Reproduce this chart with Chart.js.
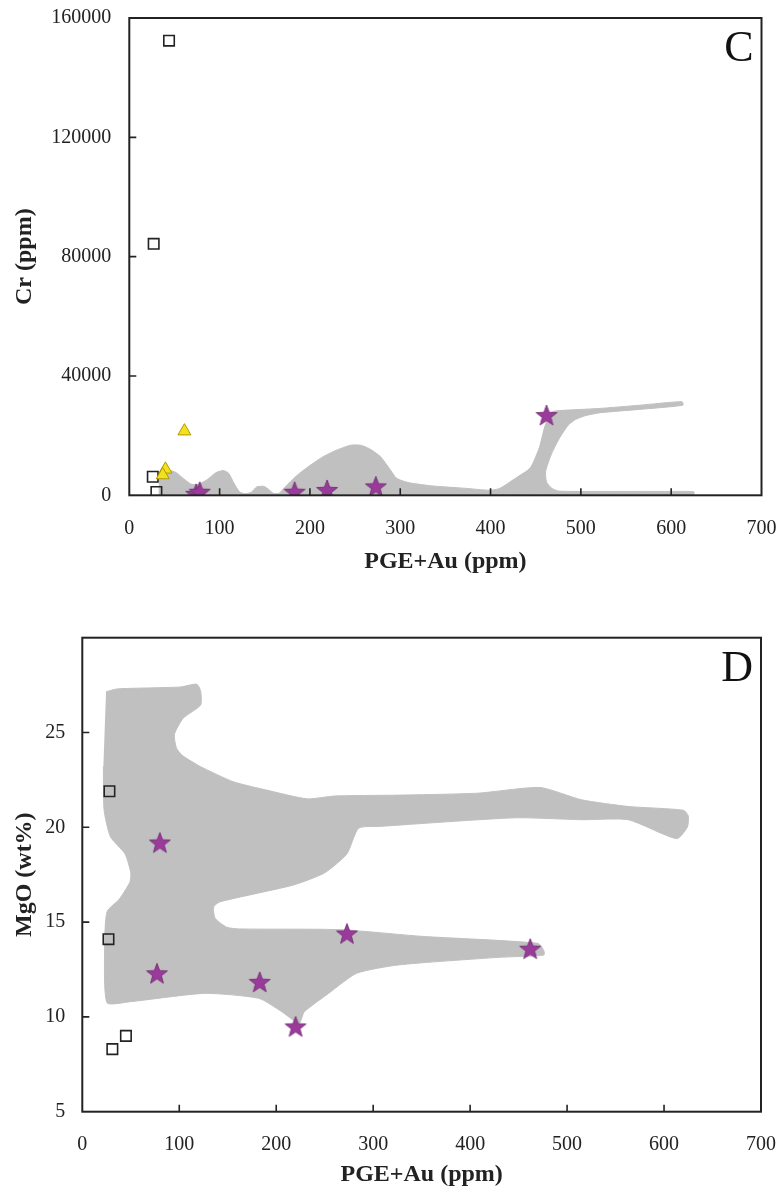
<!DOCTYPE html>
<html>
<head>
<meta charset="utf-8">
<script src="https://cdn.jsdelivr.net/npm/chart.js@4.4.1/dist/chart.umd.min.js"></script>
<style>
  body { margin: 0; background: #fff; }
  #wrap { position: relative; width: 778px; height: 1190px; }
  canvas { position: absolute; left: 0; }
  #chartC { top: 0; }
  #chartD { top: 590px; }
</style>
</head>
<body>
<div id="wrap">
  <canvas id="chartC" width="778" height="590"></canvas>
  <canvas id="chartD" width="778" height="600"></canvas>
</div>
<script>
// Panel C: Cr vs PGE+Au
const crSquareX = [44, 27, 26, 30];
const crSquareY = [152400, 84300, 6200, 1100];
const crTriangleX = [61, 40, 37];
const crTriangleY = [21500, 8700, 6800];
const crStarX = [74, 78, 183, 219, 273, 462];
const crStarY = [500, 1200, 1200, 1800, 3000, 26900];
// campo gris (contorno)
const fieldCX = [33, 34, 38, 44, 52, 60, 68, 76, 86, 96, 104, 110, 116, 122, 128, 135, 141, 149, 155, 160, 166, 172, 185, 200, 215, 230, 245, 256, 266, 278, 288, 296, 310, 337, 370, 399, 410, 428, 444, 454, 460, 466, 472, 520, 565, 612, 613, 565, 522, 505, 494, 486, 476, 467, 461, 462, 468, 476, 520, 600, 625, 625, 400];
const fieldCY = [200, 6500, 8000, 8400, 7600, 5600, 3800, 3600, 5200, 7600, 8300, 7400, 4000, 1200, 500, 1000, 2800, 3000, 1800, 600, 700, 2600, 6500, 10000, 13000, 15200, 16800, 16800, 15600, 13000, 9000, 5700, 4200, 3100, 2400, 1700, 2300, 5800, 9200, 16000, 23000, 27500, 28300, 29100, 30200, 31400, 30200, 28800, 27700, 26700, 25400, 23500, 19000, 13500, 8000, 4500, 2300, 1400, 1300, 1300, 1200, 300, 200];
const crYTicks = [40000, 80000, 120000];

// Panel D: MgO vs PGE+Au
const mgSquareX = [28, 27, 31, 45];
const mgSquareY = [21.9, 14.1, 8.3, 9.0];
const mgStarX = [80, 77, 183, 220, 273, 462];
const mgStarY = [19.2, 12.3, 11.85, 9.5, 14.4, 13.6];
const fieldDX = [24.5, 36, 101, 118, 122, 122, 104, 95, 97, 103, 122, 156, 191, 232, 260, 330, 408, 472, 515, 563, 620, 625, 624, 613, 563, 515, 446, 308, 285, 273, 250, 218, 142, 135.5, 137, 149, 162, 266, 350, 470, 476, 476, 429, 326, 283, 254, 229, 223.6, 205, 182, 126, 49, 25.5, 23, 25.5, 38, 49, 50, 44, 29, 22.5, 21.7];
const fieldDY = [27.15, 27.3, 27.4, 27.55, 27.2, 26.45, 25.75, 24.9, 24.2, 23.8, 23.2, 22.4, 21.95, 21.5, 21.65, 21.7, 21.8, 22.1, 21.45, 21.1, 20.9, 20.6, 20.0, 19.4, 20.4, 20.4, 20.5, 20.05, 19.95, 18.6, 17.6, 16.96, 16.07, 15.8, 15.2, 14.73, 14.64, 14.6, 14.25, 13.88, 13.5, 13.26, 13.14, 12.74, 12.3, 11.24, 10.27, 9.66, 10.3, 10.98, 11.24, 10.8, 10.75, 13.7, 15.55, 16.2, 17.1, 17.6, 18.6, 19.5, 20.9, 23.2];
const mgYTicks = [10, 15, 20, 25];

const xTickMarks = [100, 200, 300, 400, 500, 600];

Chart.defaults.font.family = '"Liberation Serif", "DejaVu Serif", serif';
Chart.defaults.color = '#222';

function puntos(xs, ys) {
  return xs.map((x, i) => ({ x: x, y: ys[i] }));
}

// estrella rellena de 5 puntas para usar como pointStyle
function estrella(r, fill, stroke) {
  const c = document.createElement('canvas');
  const s = Math.ceil(r * 2 + 2);
  c.width = s; c.height = s;
  const g = c.getContext('2d');
  g.beginPath();
  for (let i = 0; i < 10; i++) {
    const rad = i % 2 ? r * 0.42 : r;
    const ang = -Math.PI / 2 + i * Math.PI / 5;
    g.lineTo(s / 2 + rad * Math.cos(ang), s / 2 + 1 + rad * Math.sin(ang));
  }
  g.closePath();
  g.fillStyle = fill;
  g.fill();
  g.strokeStyle = stroke;
  g.lineWidth = 0.8;
  g.stroke();
  return c;
}
const starImg = estrella(11, '#9a3a9a', '#6f2a6f');

// marco, ticks interiores y letra del panel
const marco = {
  id: 'marco',
  afterDatasetsDraw(chart, args, opts) {
    const { ctx, chartArea: a, scales: { x, y } } = chart;
    ctx.save();
    ctx.strokeStyle = '#222';
    ctx.lineWidth = 1.6;
    ctx.beginPath();
    opts.xTicks.forEach(v => {
      const px = x.getPixelForValue(v);
      ctx.moveTo(px, a.bottom);
      ctx.lineTo(px, a.bottom - 7);
    });
    opts.yTicks.forEach(v => {
      const py = y.getPixelForValue(v);
      ctx.moveTo(a.left, py);
      ctx.lineTo(a.left + 7, py);
    });
    ctx.stroke();
    ctx.lineWidth = 2;
    ctx.strokeRect(a.left, a.top, a.right - a.left, a.bottom - a.top);
    ctx.font = '44px "Liberation Serif"';
    ctx.fillStyle = '#111';
    ctx.textAlign = 'right';
    ctx.textBaseline = 'alphabetic';
    ctx.fillText(opts.label, a.right - 8, a.top + 43);
    ctx.restore();
  }
};

function hacerGrafica(id, cfg) {
  const datasets = [];
  if (cfg.triangles) {
    datasets.push({
      data: cfg.triangles,
      pointStyle: 'triangle',
      pointRadius: 7.5,
      backgroundColor: '#f2e21e',
      borderColor: '#b09a00',
      borderWidth: 1,
      order: 0
    });
  }
  datasets.push({
    data: cfg.squares,
    pointStyle: 'rect',
    pointRadius: 7.4,
    backgroundColor: 'rgba(0,0,0,0)',
    borderColor: '#222',
    borderWidth: 1.6,
    order: 1
  });
  datasets.push({
    data: cfg.stars,
    pointStyle: starImg,
    pointRadius: 11,
    order: 2
  });
  datasets.push({
    data: cfg.field,
    showLine: true,
    fill: 'shape',
    backgroundColor: '#c0c0c0',
    borderColor: '#c0c0c0',
    borderWidth: 1,
    pointRadius: 0,
    pointHitRadius: 0,
    tension: 0.2,
    order: 3
  });

  return new Chart(document.getElementById(id), {
    type: 'scatter',
    data: { datasets },
    options: {
      responsive: false,
      animation: false,
      layout: { padding: { top: cfg.padTop, right: cfg.padRight, left: 0, bottom: 0 } },
      plugins: {
        legend: { display: false },
        tooltip: { enabled: false },
        marco: { xTicks: xTickMarks, yTicks: cfg.yTickMarks, label: cfg.label }
      },
      scales: {
        x: {
          type: 'linear',
          min: 0, max: 700,
          grid: { display: false, drawTicks: false },
          border: { display: false },
          ticks: { stepSize: 100, padding: 21, maxRotation: 0, autoSkip: false, font: { size: 20 }, callback: v => String(v) },
          title: { display: true, text: 'PGE+Au (ppm)', font: { size: 24, weight: 'bold' }, padding: { top: 0, bottom: cfg.titlePadBottom } },
          afterFit: s => { s.height = cfg.xHeight; s.paddingLeft = 0; s.paddingRight = 0; }
        },
        y: {
          type: 'linear',
          min: cfg.yMin, max: cfg.yMax,
          grid: { display: false, drawTicks: false },
          border: { display: false },
          ticks: { stepSize: cfg.yStep, padding: cfg.yPad, font: { size: 20 }, callback: cfg.yLabel },
          title: { display: true, text: cfg.yTitle, font: { size: 24, weight: 'bold' }, padding: { top: 10, bottom: 0 } },
          afterFit: s => { s.width = cfg.yWidth; s.paddingTop = 0; s.paddingBottom = 0; }
        }
      }
    },
    plugins: [marco]
  });
}

hacerGrafica('chartC', {
  squares: puntos(crSquareX, crSquareY),
  triangles: puntos(crTriangleX, crTriangleY),
  stars: puntos(crStarX, crStarY),
  field: puntos(fieldCX, fieldCY),
  yMin: 0, yMax: 160000, yStep: 40000,
  yLabel: v => String(v),
  yTickMarks: crYTicks,
  yTitle: 'Cr (ppm)',
  label: 'C',
  padTop: 18, padRight: 16.5,
  xHeight: 94.7, yWidth: 129.3, yPad: 18,
  titlePadBottom: 14
});

hacerGrafica('chartD', {
  squares: puntos(mgSquareX, mgSquareY),
  stars: puntos(mgStarX, mgStarY),
  field: puntos(fieldDX, fieldDY),
  yMin: 5, yMax: 30, yStep: 5,
  yLabel: v => (v === 30 ? '' : String(v)),
  yTickMarks: mgYTicks,
  yTitle: 'MgO (wt%)',
  label: 'D',
  padTop: 47.7, padRight: 17,
  xHeight: 78.3, yWidth: 82.3, yPad: 17,
  titlePadBottom: 1
});
</script>
</body>
</html>
